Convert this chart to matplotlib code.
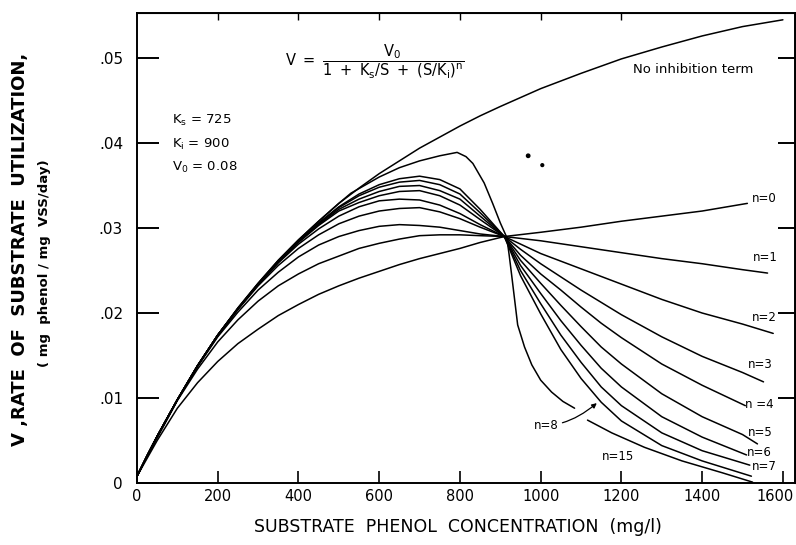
import numpy as np
import matplotlib
matplotlib.use("Agg")
import matplotlib.pyplot as plt
import matplotlib.transforms as mtransforms

plt.rcParams['font.family'] = ['DejaVu Sans']
plt.rcParams['mathtext.default'] = 'regular'

# values (S in mg/l, V in mg phenol / mg VSS / day)
S_none = [0, 25, 50, 100, 150, 200, 250, 300, 350, 400, 450, 500, 550, 600, 650, 700, 750,
          800, 850, 900, 1000, 1100, 1200, 1300, 1400, 1500, 1600]
V_none = [0.0008, 0.0032, 0.0055, 0.0098, 0.0138, 0.0174, 0.0206, 0.0235, 0.0262, 0.0286,
          0.0308, 0.0329, 0.0347, 0.0364, 0.0379, 0.0394, 0.0407, 0.0420, 0.0432, 0.0443,
          0.0464, 0.0482, 0.0499, 0.0513, 0.0526, 0.0537, 0.0545]

# rising part, shared S points for n = 0 ... 8
S_rise = [0, 25, 50, 100, 150, 200, 250, 300, 350, 400, 450, 500, 550, 600, 650, 700, 750,
          800, 850, 910]
V_rise_n0 = [0.0008, 0.0029, 0.0050, 0.0088, 0.0118, 0.0143, 0.0164, 0.0181, 0.0197, 0.0210,
             0.0222, 0.0232, 0.0241, 0.0249, 0.0257, 0.0264, 0.0270, 0.0276, 0.0283, 0.0290]
V_rise_n1 = [0.0008, 0.0031, 0.0053, 0.0097, 0.0134, 0.0166, 0.0192, 0.0214, 0.0232, 0.0246,
             0.0258, 0.0267, 0.0276, 0.0282, 0.0287, 0.0291, 0.0292, 0.0292, 0.0291, 0.0290]
V_rise_n2 = [0.0008, 0.0032, 0.0055, 0.0098, 0.0137, 0.0172, 0.0201, 0.0227, 0.0248, 0.0266,
             0.0280, 0.0290, 0.0297, 0.0302, 0.0304, 0.0303, 0.0301, 0.0297, 0.0293, 0.0290]
V_rise_n3 = [0.0008, 0.0032, 0.0055, 0.0098, 0.0138, 0.0173, 0.0204, 0.0232, 0.0256, 0.0276,
             0.0292, 0.0305, 0.0314, 0.0320, 0.0323, 0.0324, 0.0319, 0.0311, 0.0301, 0.0290]
V_rise_n4 = [0.0008, 0.0032, 0.0055, 0.0098, 0.0138, 0.0174, 0.0205, 0.0233, 0.0259, 0.0281,
             0.0299, 0.0314, 0.0325, 0.0332, 0.0334, 0.0333, 0.0327, 0.0317, 0.0304, 0.0290]
V_rise_n5 = [0.0008, 0.0032, 0.0055, 0.0098, 0.0138, 0.0174, 0.0205, 0.0234, 0.0260, 0.0283,
             0.0303, 0.0320, 0.0330, 0.0338, 0.0343, 0.0344, 0.0338, 0.0327, 0.0310, 0.0290]
V_rise_n6 = [0.0008, 0.0032, 0.0055, 0.0098, 0.0138, 0.0174, 0.0205, 0.0234, 0.0260, 0.0284,
             0.0304, 0.0322, 0.0334, 0.0343, 0.0349, 0.0350, 0.0344, 0.0334, 0.0314, 0.0290]
V_rise_n7 = [0.0008, 0.0032, 0.0055, 0.0098, 0.0138, 0.0174, 0.0205, 0.0234, 0.0260, 0.0284,
             0.0305, 0.0324, 0.0338, 0.0348, 0.0354, 0.0356, 0.0351, 0.0340, 0.0318, 0.0290]
V_rise_n8 = [0.0008, 0.0032, 0.0055, 0.0098, 0.0138, 0.0174, 0.0205, 0.0234, 0.0261, 0.0285,
             0.0306, 0.0325, 0.0340, 0.0351, 0.0358, 0.0361, 0.0357, 0.0346, 0.0322, 0.0290]

# falling / right-hand part of each curve
S_tail_n0 = [1000, 1100, 1200, 1300, 1400, 1512]
V_tail_n0 = [0.0295, 0.0301, 0.0308, 0.0314, 0.0320, 0.0329]
S_tail_n1 = [1000, 1100, 1200, 1300, 1400, 1500, 1562]
V_tail_n1 = [0.0285, 0.0278, 0.0271, 0.0264, 0.0258, 0.0251, 0.0247]
S_tail_n2 = [1000, 1100, 1200, 1300, 1400, 1500, 1576]
V_tail_n2 = [0.0270, 0.0252, 0.0234, 0.0216, 0.0200, 0.0187, 0.0176]
S_tail_n3 = [950, 1000, 1100, 1200, 1300, 1400, 1500, 1552]
V_tail_n3 = [0.0275, 0.0258, 0.0227, 0.0198, 0.0172, 0.0149, 0.0130, 0.0119]
S_tail_n4 = [950, 1000, 1050, 1100, 1150, 1200, 1300, 1400, 1507]
V_tail_n4 = [0.0268, 0.0246, 0.0227, 0.0207, 0.0188, 0.0171, 0.0140, 0.0115, 0.0091]
S_tail_n5 = [950, 1000, 1050, 1100, 1150, 1200, 1300, 1400, 1500, 1537]
V_tail_n5 = [0.0262, 0.0235, 0.0209, 0.0184, 0.0160, 0.0140, 0.0105, 0.0078, 0.0057, 0.0046]
S_tail_n6 = [950, 1000, 1050, 1100, 1150, 1200, 1300, 1400, 1510]
V_tail_n6 = [0.0256, 0.0223, 0.0191, 0.0162, 0.0135, 0.0113, 0.0078, 0.0054, 0.0033]
S_tail_n7 = [950, 1000, 1050, 1100, 1150, 1200, 1300, 1400, 1518]
V_tail_n7 = [0.0250, 0.0211, 0.0174, 0.0142, 0.0113, 0.0091, 0.0059, 0.0038, 0.0021]
S_tail_n8 = [950, 1000, 1050, 1100, 1150, 1200, 1300, 1400, 1522]
V_tail_n8 = [0.0244, 0.0199, 0.0157, 0.0123, 0.0095, 0.0073, 0.0044, 0.0026, 0.0008]

# n = 15 is drawn with a break just below the n=8 pointer
S_n15 = [0, 25, 50, 100, 150, 200, 250, 300, 350, 400, 450, 500, 530, 600, 650, 700, 750,
         793, 815, 832, 860, 881, 900, 916, 922, 928, 943, 960, 978, 1000, 1027, 1055, 1084,
         np.nan, 1116, 1176, 1257, 1350, 1450, 1525]
V_n15 = [0.0008, 0.0032, 0.0055, 0.0098, 0.0138, 0.0174, 0.0206, 0.0235, 0.0262, 0.0286,
         0.0308, 0.0329, 0.0341, 0.0360, 0.0371, 0.0379, 0.0385, 0.0389, 0.0384, 0.0376,
         0.0353, 0.0329, 0.0306, 0.0289, 0.0268, 0.0245, 0.0186, 0.0160, 0.0139, 0.0121,
         0.0107, 0.0096, 0.0088, np.nan, 0.0074, 0.0059, 0.0042, 0.0026, 0.0012, 0.0001]

# stray specks on the scan
S_specks = [969, 1004]
V_specks = [0.0385, 0.0374]

rises = [V_rise_n0, V_rise_n1, V_rise_n2, V_rise_n3, V_rise_n4, V_rise_n5, V_rise_n6,
         V_rise_n7, V_rise_n8]
tails = [(S_tail_n0, V_tail_n0), (S_tail_n1, V_tail_n1), (S_tail_n2, V_tail_n2),
         (S_tail_n3, V_tail_n3), (S_tail_n4, V_tail_n4), (S_tail_n5, V_tail_n5),
         (S_tail_n6, V_tail_n6), (S_tail_n7, V_tail_n7), (S_tail_n8, V_tail_n8)]

# curve end labels: text, S, V
end_labels = [("n=0", 1522, 0.0335), ("n=1", 1526, 0.0265), ("n=2", 1523, 0.0195),
              ("n=3", 1513, 0.0139), ("n =4", 1506, 0.0092), ("n=5", 1513, 0.0060),
              ("n=6", 1511, 0.0036), ("n=7", 1523, 0.0019)]

yticks = [0, 0.01, 0.02, 0.03, 0.04, 0.05]
ytick_labels = ["0", ".01", ".02", ".03", ".04", ".05"]
xticks = [0, 200, 400, 600, 800, 1000, 1200, 1400, 1600]

fig = plt.figure(figsize=(7.96, 5.45), dpi=100)
ax = fig.add_axes([137 / 796, 1 - 483 / 545, 658 / 796, 470 / 545])

line_kw = dict(color='black', lw=1.1, solid_joinstyle='round', solid_capstyle='round')
ax.plot(S_none, V_none, **line_kw)
for V_r, (S_t, V_t) in zip(rises, tails):
    ax.plot(S_rise + S_t, V_r + V_t, **line_kw)
ax.plot(S_n15, V_n15, **line_kw)

ax.scatter(S_specks, V_specks, s=[6, 4], color='black', zorder=3)

for txt, s, v in end_labels:
    ax.text(s, v, txt, fontsize=8.5, ha='left', va='center')

ax.annotate("n=8", xy=(1139, 0.0094), xytext=(1013, 0.0068), fontsize=8.5,
            ha='center', va='center',
            arrowprops=dict(arrowstyle='-|>', color='black', lw=0.9, mutation_scale=7,
                            shrinkA=1, shrinkB=0,
                            connectionstyle='angle3,angleA=0,angleB=40'))
ax.text(1191, 0.0031, "n=15", fontsize=8.5, ha='center', va='center')

ax.text(589, 0.0496, r"$V\ =\ \dfrac{V_0}{1\ +\ K_s/S\ +\ (S/K_i)^n}$",
        fontsize=10.5, ha='center', va='center')
ax.text(87, 0.0427, r"K$_s$ = 725", fontsize=9.5, ha='left', va='center')
ax.text(87, 0.0398, r"K$_i$ = 900", fontsize=9.5, ha='left', va='center')
ax.text(87, 0.0371, r"V$_0$ = 0.08", fontsize=9.5, ha='left', va='center')
ax.text(1228, 0.0486, "No inhibition term", fontsize=9.5, ha='left', va='center')

ax.set_xlim(0, 1630)
ax.set_ylim(0, 0.0553)
ax.set_xticks(xticks)
ax.set_xticklabels([str(x) for x in xticks])
ax.set_yticks(yticks)
ax.set_yticklabels(ytick_labels)
ax.tick_params(axis='x', direction='in', length=9, width=1.2, labelsize=10.5, pad=4)
ax.tick_params(axis='y', direction='in', length=16, width=1.4, labelsize=11, pad=10)
for sp in ax.spines.values():
    sp.set_linewidth(1.4)

# keep the last x label inside the picture
last = ax.get_xticklabels()[-1]
last.set_transform(last.get_transform() +
                   mtransforms.ScaledTranslation(-8 / 100, 0, fig.dpi_scale_trans))

# short inward marks along the top edge, shorter ones on the right
top = ax.secondary_xaxis('top')
top.set_xticks([200, 400, 600, 800, 1000, 1200])
top.set_xticklabels([])
top.tick_params(direction='in', length=5, width=1.0)

right = ax.secondary_yaxis('right')
right.set_yticks(yticks[1:])
right.set_yticklabels([])
right.tick_params(direction='in', length=12, width=1.4)

fig.text(458 / 796, 1 - 527 / 545, "SUBSTRATE  PHENOL  CONCENTRATION  (mg/l)",
         fontsize=12.5, ha='center', va='center')
fig.text(20 / 796, 1 - 249 / 545, "V ,RATE  OF  SUBSTRATE  UTILIZATION,",
         fontsize=13, fontweight='bold', rotation=90, ha='center', va='center')
fig.text(45 / 796, 1 - 263 / 545, "( mg  phenol / mg  VSS/day)",
         fontsize=9.5, fontweight='bold', rotation=90, ha='center', va='center')

fig.savefig("out.png", dpi=100, facecolor='white')
